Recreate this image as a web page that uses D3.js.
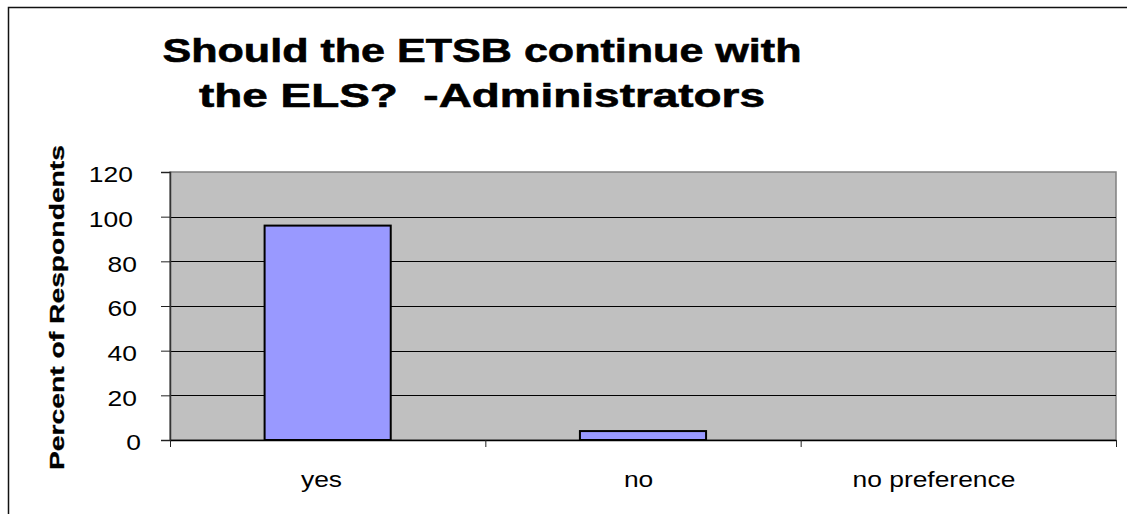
<!DOCTYPE html>
<html><head><meta charset="utf-8">
<script src="https://cdn.jsdelivr.net/npm/d3@7"></script>
<style>html,body{margin:0;padding:0;background:#fff;}svg{display:block;} text{white-space:pre;}</style>
</head><body>
<svg id="c" width="1127" height="514"></svg>
<script>
const categories = ["yes", "no", "no preference"];
const values = [96, 4, 0];
const yTicks = [0, 20, 40, 60, 80, 100, 120];
const titleLines = ["Should the ETSB continue with", "the ELS?  -Administrators"];
const yLabel = "Percent of Respondents";

const svg = d3.select("#c");
const W = 1127, H = 514;
const m = {left: 170, top: 172, right: 1116, bottom: 440};
const font = "'Liberation Sans', Arial, sans-serif";

// outer frame
svg.append("path").attr("d", `M8.5,${H} L8.5,7.5 L${W},7.5`)
  .attr("fill", "none").attr("stroke", "#111").attr("stroke-width", 1.5);

const x = d3.scaleBand().domain(categories).range([m.left, m.right]).padding(0);
const y = d3.scaleLinear().domain([0, 120]).range([m.bottom, m.top]);

// plot area
svg.append("rect").attr("x", m.left).attr("y", m.top)
  .attr("width", m.right - m.left).attr("height", m.bottom - m.top)
  .attr("fill", "#c0c0c0").attr("stroke", "#808080").attr("stroke-width", 1.5);

// gridlines
svg.append("g").selectAll("line").data(yTicks.filter(t => t > 0 && t < 120)).join("line")
  .attr("x1", m.left).attr("x2", m.right)
  .attr("y1", d => Math.round(y(d)) + 0.5).attr("y2", d => Math.round(y(d)) + 0.5)
  .attr("stroke", "#000").attr("stroke-width", 1);

// bars
const bw = x.bandwidth() * 0.4;
svg.append("g").selectAll("rect").data(categories.map((c, i) => ({c, v: values[i]})).filter(d => d.v > 0)).join("rect")
  .attr("x", d => x(d.c) + (x.bandwidth() - bw) / 2)
  .attr("width", bw)
  .attr("y", d => y(d.v))
  .attr("height", d => y(0) - y(d.v))
  .attr("fill", "#9999ff").attr("stroke", "#000").attr("stroke-width", 2);

// y axis
const yAxis = d3.axisLeft(y).tickValues(yTicks).tickSize(9).tickPadding(6).tickFormat(d3.format("d"));
const gy = svg.append("g").attr("transform", `translate(${m.left},0)`).call(yAxis);
gy.select(".domain").attr("stroke", "#333").attr("stroke-width", 1.5);
gy.selectAll(".tick line").attr("stroke", "#222");
gy.selectAll(".tick text").attr("font-family", font).attr("font-size", 22).attr("fill", "#000")
  .attr("dy", "0.45em").attr("text-anchor", "end")
  .each(function() {
    const t = d3.select(this);
    const nat = this.getComputedTextLength();
    t.attr("x", null).attr("transform", `translate(${-25 - 0.33 * nat},0) scale(1.2,1)`);
  });

// x axis
const xAxis = d3.axisBottom(x).tickSize(0).tickFormat(d => d);
const gx = svg.append("g").attr("transform", `translate(0,${m.bottom})`).call(xAxis);
gx.select(".domain").attr("stroke", "#000").attr("stroke-width", 1.5);
gx.selectAll(".tick text").attr("font-family", font).attr("font-size", 22).attr("fill", "#000")
  .attr("y", 0).attr("dy", 0)
  .each(function() {
    const t = d3.select(this);
    const nat = this.getComputedTextLength();
    t.attr("text-anchor", "end")
     .attr("transform", `translate(${0.42 * nat},47) scale(1.2,1)`);
  });
// category boundary ticks
const bounds = categories.map(c => x(c)).concat([x.range()[1]]);
svg.append("g").selectAll("line").data(bounds).join("line")
  .attr("x1", d => d + 0.5).attr("x2", d => d + 0.5)
  .attr("y1", m.bottom).attr("y2", m.bottom + 7)
  .attr("stroke", "#222").attr("stroke-width", 1);

// title
const tWidths = [639, 566];
svg.append("g").selectAll("text").data(titleLines).join("text")
  .attr("x", 482).attr("y", (d, i) => 62 + i * 45)
  .attr("text-anchor", "middle")
  .attr("font-family", font).attr("font-weight", "bold").attr("font-size", 33)
  .attr("stroke", "#000").attr("stroke-width", 0.6)
  .attr("textLength", (d, i) => tWidths[i]).attr("lengthAdjust", "spacingAndGlyphs")
  .text(d => d);

// y label
svg.append("text")
  .attr("transform", `translate(64,${(145 + 470) / 2}) rotate(-90)`)
  .attr("text-anchor", "middle")
  .attr("font-family", font).attr("font-weight", "bold").attr("font-size", 20)
  .attr("stroke", "#000").attr("stroke-width", 0.3)
  .attr("textLength", 325).attr("lengthAdjust", "spacingAndGlyphs")
  .text(yLabel);
</script>
</body></html>
